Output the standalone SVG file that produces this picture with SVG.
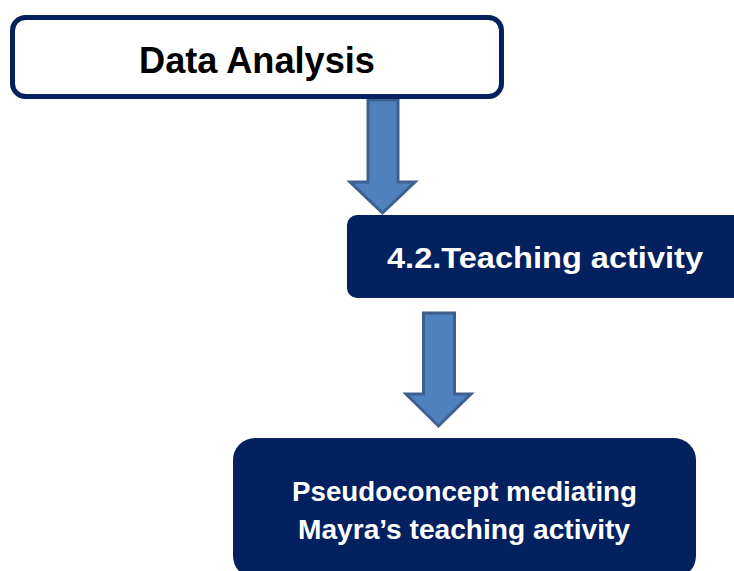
<svg xmlns="http://www.w3.org/2000/svg" width="734" height="571" viewBox="0 0 734 571">
<style>
.lbl{font-family:"Liberation Sans","Open Sans",Arial,sans-serif;font-weight:bold;text-anchor:middle}
.dark{fill:#03205f}
.arrow{fill:#4f81bd;stroke:#3c6090;stroke-width:3;stroke-linejoin:miter}
</style>
<rect width="734" height="571" fill="#ffffff"/>
<g id="connectors">
<path class="arrow" d="M368,100 H398 V182 H415 L382.5,213 L350,182 H368 Z"/>
<path class="arrow" d="M423.5,313 H454.5 V394 H471 L438.5,426 L406,394 H423.5 Z"/>
</g>
<g id="node-data-analysis">
<rect x="12.5" y="17.5" width="489" height="79" rx="13" ry="13" fill="#ffffff" stroke="#03205f" stroke-width="5"/>
<text class="lbl" x="257" y="73" font-size="36" fill="#000000" textLength="236" lengthAdjust="spacingAndGlyphs">Data Analysis</text>
</g>
<g id="node-teaching-activity">
<rect class="dark" x="347" y="215" width="400" height="83" rx="10" ry="10"/>
<text class="lbl" x="545" y="268" font-size="30" fill="#ffffff" textLength="316" lengthAdjust="spacingAndGlyphs">4.2.Teaching activity</text>
</g>
<g id="node-pseudoconcept">
<rect class="dark" x="233" y="438" width="463" height="140" rx="22" ry="22"/>
<text class="lbl" x="464.5" y="501" font-size="27" fill="#ffffff" textLength="345" lengthAdjust="spacingAndGlyphs">Pseudoconcept mediating</text>
<text class="lbl" x="464" y="539" font-size="27" fill="#ffffff" textLength="332" lengthAdjust="spacingAndGlyphs">Mayra’s teaching activity</text>
</g>
</svg>
